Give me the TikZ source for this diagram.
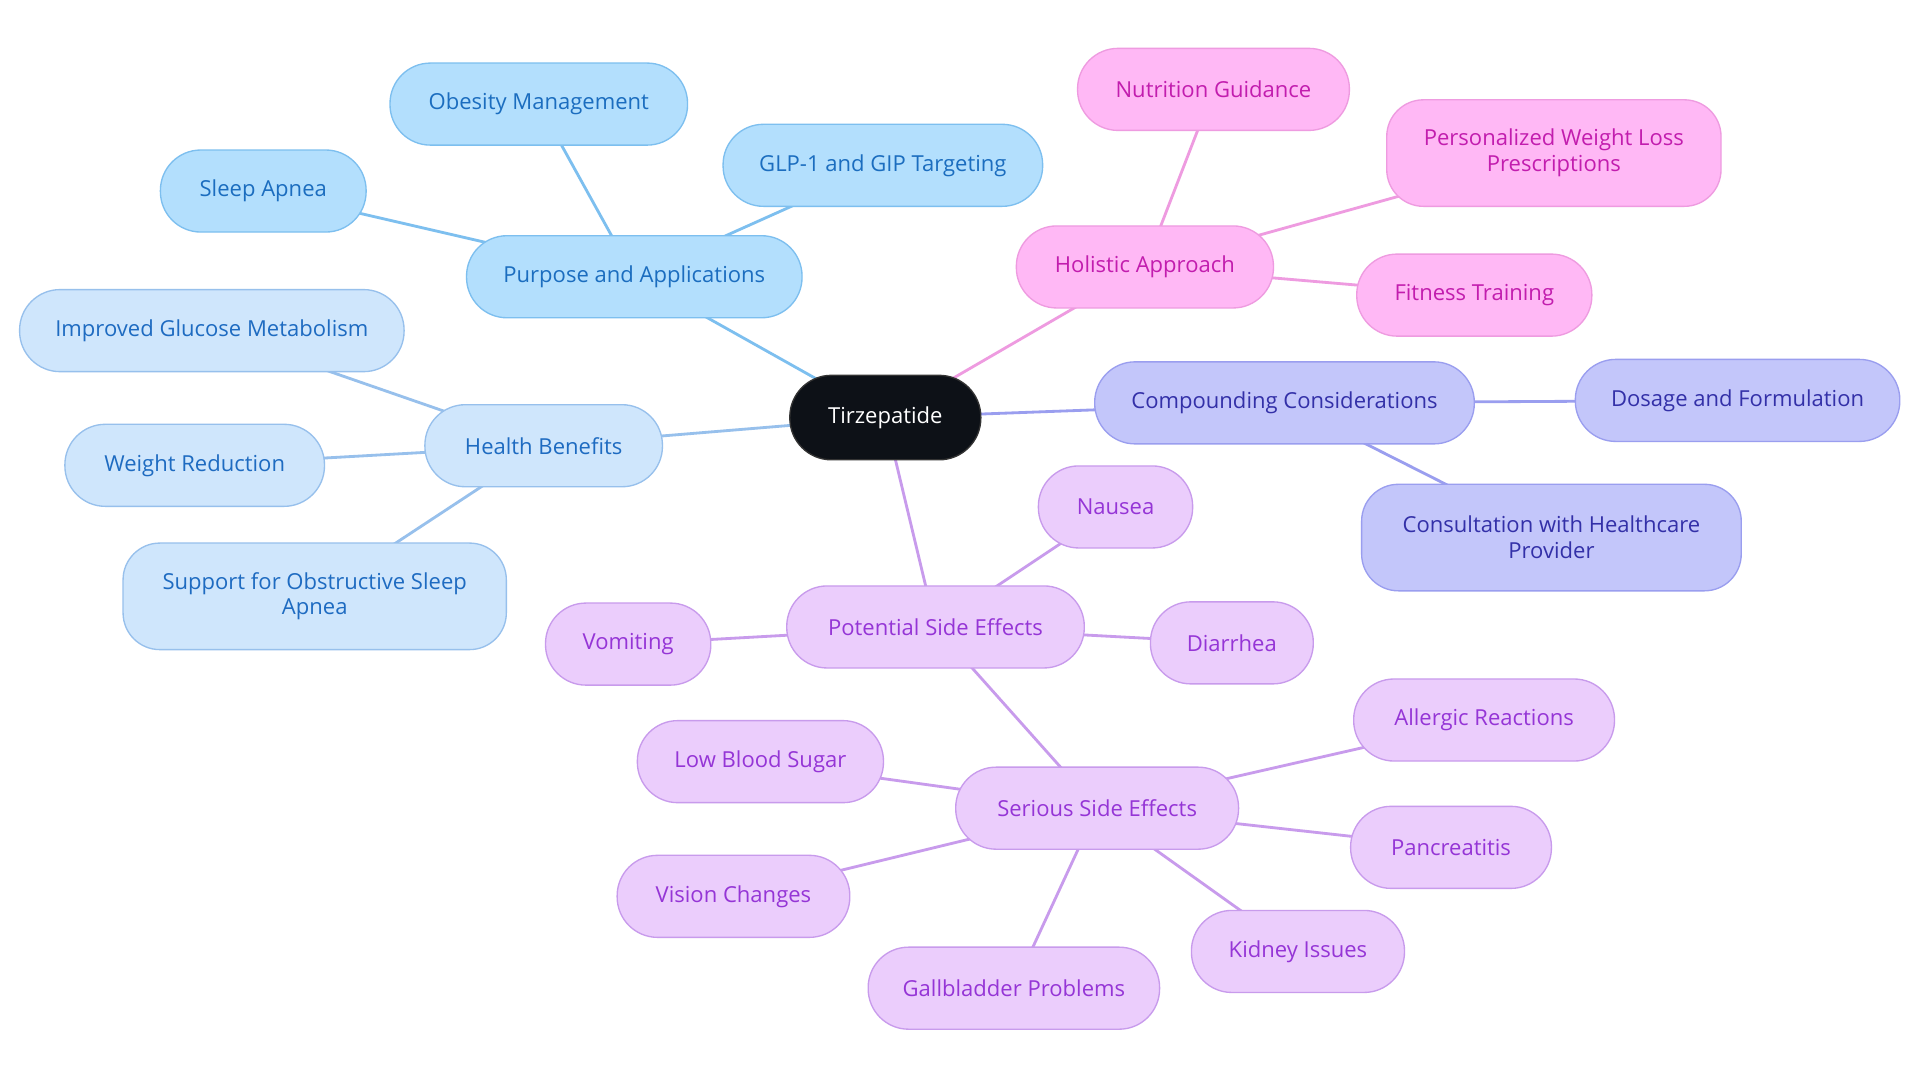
\documentclass[tikz,border=0pt]{standalone}
\usepackage{fontspec}
\setmainfont{Open Sans}
\usetikzlibrary{backgrounds}
\definecolor{bfill}{HTML}{B3DFFD}
\definecolor{bline}{HTML}{7DBFEF}
\definecolor{btext}{HTML}{1B6DBF}
\definecolor{hfill}{HTML}{CFE6FC}
\definecolor{hline}{HTML}{97C0EC}
\definecolor{htext}{HTML}{1E6BC1}
\definecolor{pfill}{HTML}{FFB8F5}
\definecolor{pline}{HTML}{EE9BE0}
\definecolor{ptext}{HTML}{C21DAE}
\definecolor{ifill}{HTML}{C3C6FA}
\definecolor{iline}{HTML}{9A9EEF}
\definecolor{itext}{HTML}{3330A8}
\definecolor{ufill}{HTML}{EBCDFC}
\definecolor{uline}{HTML}{C89BEC}
\definecolor{utext}{HTML}{9535D6}
\definecolor{cfill}{HTML}{0D1117}
\begin{document}
\begin{tikzpicture}[x=1pt,y=-1pt,
  box/.style={rounded corners=33pt, minimum height=67pt, inner sep=0pt, align=center,
    line width=1.1pt, font=\fontsize{18}{21}\selectfont},
  tall/.style={rounded corners=30pt, minimum height=87pt},
  bbox/.style={box, fill=bfill, draw=bline, text=btext},
  hbox/.style={box, fill=hfill, draw=hline, text=htext},
  pbox/.style={box, fill=pfill, draw=pline, text=ptext},
  ibox/.style={box, fill=ifill, draw=iline, text=itext},
  ubox/.style={box, fill=ufill, draw=uline, text=utext},
  cbox/.style={box, fill=cfill, draw=black!80, text=white, minimum height=69pt, rounded corners=34pt},
  link/.style={line width=2.3pt}
]
\useasboundingbox (0,0) rectangle (1568,884.5);

\node[cbox, minimum width=156pt] (tirz) at (723,341) {Tirzepatide};

\node[bbox, minimum width=274pt] (purp) at (518,226) {Purpose and Applications};
\node[bbox, minimum width=243pt] (obes) at (440,85) {Obesity Management};
\node[bbox, minimum width=261pt] (glp) at (721,135) {GLP-1 and GIP Targeting};
\node[bbox, minimum width=168pt] (sleep) at (215,156) {Sleep Apnea};

\node[hbox, minimum width=194pt] (health) at (444,364) {Health Benefits};
\node[hbox, minimum width=314pt] (gluc) at (173,270) {Improved Glucose Metabolism};
\node[hbox, minimum width=212pt] (weight) at (159,380) {Weight Reduction};
\node[hbox, tall, minimum width=313pt] (osa) at (257,487) {Support for Obstructive Sleep\\Apnea};

\node[pbox, minimum width=210pt] (holi) at (935,218) {Holistic Approach};
\node[pbox, minimum width=222pt] (nutr) at (991,73) {Nutrition Guidance};
\node[pbox, tall, minimum width=273pt] (pers) at (1269,125) {Personalized Weight Loss\\Prescriptions};
\node[pbox, minimum width=192pt] (fit) at (1204,241) {Fitness Training};

\node[ibox, minimum width=310pt] (comp) at (1049,329) {Compounding Considerations};
\node[ibox, minimum width=265pt] (dose) at (1419,327) {Dosage and Formulation};
\node[ibox, tall, minimum width=310pt] (cons) at (1267,439) {Consultation with Healthcare\\Provider};

\node[ubox, minimum width=243pt] (pot) at (764,512) {Potential Side Effects};
\node[ubox, minimum width=126pt] (naus) at (911,414) {Nausea};
\node[ubox, minimum width=135pt] (vomit) at (513,526) {Vomiting};
\node[ubox, minimum width=133pt] (diar) at (1006,525) {Diarrhea};
\node[ubox, minimum width=231pt] (ser) at (896,660) {Serious Side Effects};
\node[ubox, minimum width=201pt] (low) at (621,622) {Low Blood Sugar};
\node[ubox, minimum width=213pt] (aller) at (1212,588) {Allergic Reactions};
\node[ubox, minimum width=164pt] (panc) at (1185,692) {Pancreatitis};
\node[ubox, minimum width=190pt] (vis) at (599,732) {Vision Changes};
\node[ubox, minimum width=174pt] (kid) at (1060,777) {Kidney Issues};
\node[ubox, minimum width=238pt] (gall) at (828,807) {Gallbladder Problems};

\begin{scope}[on background layer]
\fill[white] (0,0) rectangle (1568,884.5);
\draw[link, bline] (tirz.center) -- (purp.center);
\draw[link, bline] (purp.center) -- (obes.center);
\draw[link, bline] (purp.center) -- (glp.center);
\draw[link, bline] (purp.center) -- (sleep.center);
\draw[link, hline] (tirz.center) -- (health.center);
\draw[link, hline] (health.center) -- (gluc.center);
\draw[link, hline] (health.center) -- (weight.center);
\draw[link, hline] (health.center) -- (osa.center);
\draw[link, pline] (tirz.center) -- (holi.center);
\draw[link, pline] (holi.center) -- (nutr.center);
\draw[link, pline] (holi.center) -- (pers.center);
\draw[link, pline] (holi.center) -- (fit.center);
\draw[link, iline] (tirz.center) -- (comp.center);
\draw[link, iline] (comp.center) -- (dose.center);
\draw[link, iline] (comp.center) -- (cons.center);
\draw[link, uline] (tirz.center) -- (pot.center);
\draw[link, uline] (pot.center) -- (naus.center);
\draw[link, uline] (pot.center) -- (vomit.center);
\draw[link, uline] (pot.center) -- (diar.center);
\draw[link, uline] (pot.center) -- (ser.center);
\draw[link, uline] (ser.center) -- (low.center);
\draw[link, uline] (ser.center) -- (aller.center);
\draw[link, uline] (ser.center) -- (panc.center);
\draw[link, uline] (ser.center) -- (vis.center);
\draw[link, uline] (ser.center) -- (kid.center);
\draw[link, uline] (ser.center) -- (gall.center);
\end{scope}
\end{tikzpicture}
\end{document}
